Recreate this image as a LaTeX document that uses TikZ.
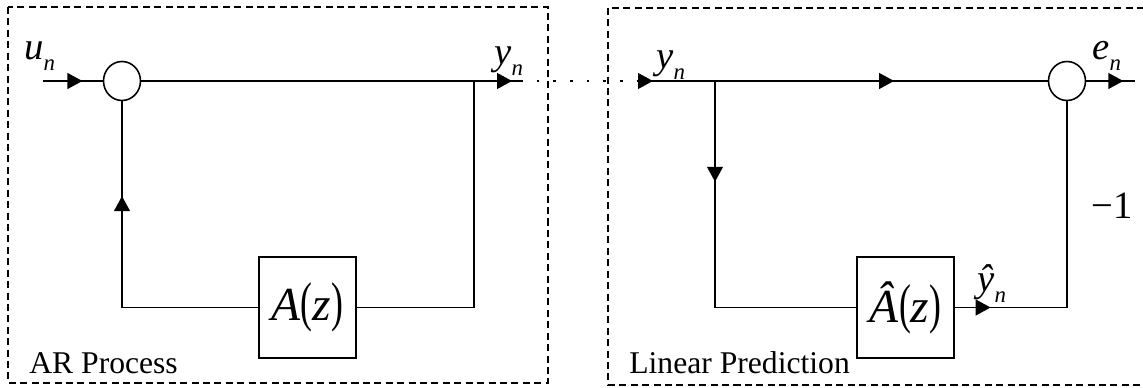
\documentclass[tikz,border=0pt]{standalone}
\usepackage{fontspec}
\setmainfont{Liberation Serif}
\usetikzlibrary{arrows.meta,decorations.markings,shapes.geometric,positioning}
% signal name with a lowered subscript
\newcommand{\sig}[2]{\textit{#1}\raisebox{-5.7pt}{\fontsize{13}{15}\selectfont\textit{#2}}}
% tall narrow brackets for the transfer functions
\newcommand{\tf}[1]{#1\scalebox{0.75}[1.15]{(}\textit{z}\scalebox{0.75}[1.15]{)}}

\begin{document}
\begin{tikzpicture}[x=0.02cm, y=-0.02cm,
    tri/.tip={Triangle[length=8.5pt, width=9pt]},
    sigline/.style={line width=0.9pt},
    dotline/.style={line width=0.9pt, dash pattern=on 1.5pt off 8pt},
    frame/.style={line width=1.1pt, dash pattern=on 4pt off 2.5pt},
    arrowat/.style={postaction={decorate, decoration={markings, mark=at position #1 with {\arrow{tri}}}}},
    sumnode/.style={ellipse, draw, line width=0.9pt, minimum width=0.74cm, minimum height=0.78cm, inner sep=0pt},
    blockbox/.style={draw, line width=0.9pt, minimum width=1.94cm, minimum height=2.02cm, inner sep=0pt, font=\fontsize{27}{32}\selectfont},
    sigtext/.style={inner sep=0pt, anchor=base west, font=\fontsize{22}{26}\selectfont},
    boxtitle/.style={inner sep=0pt, anchor=base west, font=\fontsize{18}{21}\selectfont}]
  \useasboundingbox (0,0) rectangle (1143,388);
  % Draw the two dashed frames
  \draw[frame] (8,7) rectangle (548,383);
  \draw[frame] (608,8) rectangle (1150,385);
  % AR process: adder and filter
  \node[sumnode] (sumL) at (122,81) {};
  \node[blockbox] (boxA) at (307.5,307.5) {\tf{\textit{A}}};
  \coordinate (inL) at (43,81);
  \coordinate (outL) at (520,81);
  \coordinate (tapL) at (474,81);
  % Linear prediction: adder and predictor
  \node[sumnode] (sumR) at (1067,81) {};
  \node[blockbox] (boxAh) at (905.5,307.5) {\tf{\textit{\^{A}}}};
  \coordinate (inR) at (638,81);
  \coordinate (tapR) at (715,81);
  \coordinate (outR) at (1135,81);
  % Draw connecting lines
  \draw[sigline, arrowat=0.66] (inL) -- (sumL.west);
  \draw[sigline, arrowat=0.979] (sumL.east) -- (outL);
  \draw[sigline] (tapL) |- (boxA.east);
  \draw[sigline, arrowat=0.723] (boxA.west) -| (sumL.south);
  \draw[dotline] (outL) -- (inR);
  \draw[sigline, arrowat=0.0365, arrowat=0.625] (inR) -- (sumR.west);
  \draw[sigline, arrowat=0.274] (tapR) |- (boxAh.west);
  \draw[sigline, arrowat=0.1125] (boxAh.east) -| (sumR.south);
  \draw[sigline, arrowat=0.76] (sumR.east) -- (outR);
  % Signal labels
  \node[sigtext] (lblU) at (24,60) {\sig{u}{n}};
  \node[sigtext] (lblYL) at (494,65) {\sig{y}{n}};
  \node[sigtext] (lblYR) at (656,69) {\sig{y}{n}};
  \node[sigtext] (lblE) at (1092,60) {\sig{e}{n}};
  \node[sigtext] (lblYh) at (977,292) {\sig{\^{y}}{n}};
  \node[sigtext] (lblM) at (1091,219) {−1};
  % Frame titles
  \node[boxtitle] (ttlAR) at (29,373) {AR Process};
  \node[boxtitle] (ttlLP) at (629,373) {Linear Prediction};
\end{tikzpicture}
\end{document}
